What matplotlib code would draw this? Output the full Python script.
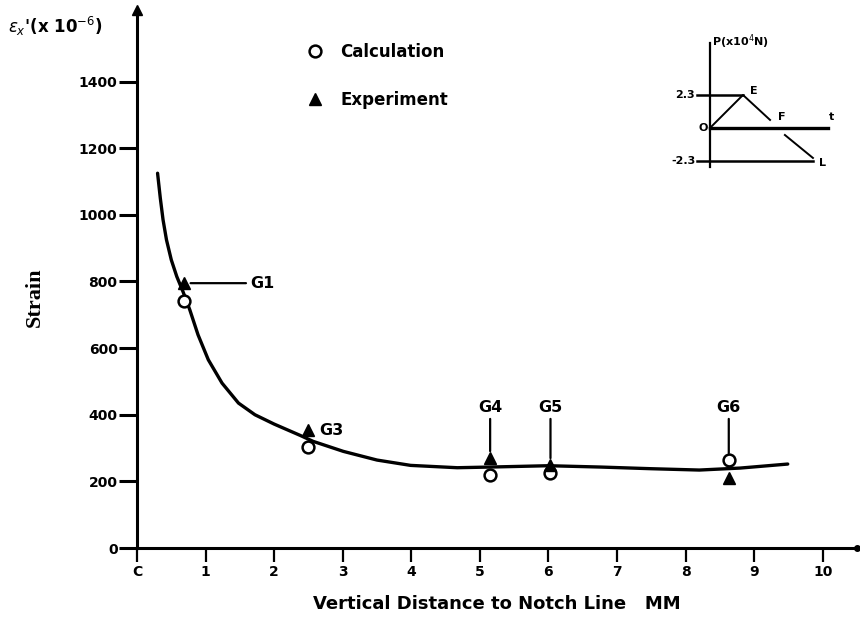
import matplotlib.pyplot as plt

# =========================
# DATA
# =========================
# fitted strain curve
curve_x = [0.30, 0.34, 0.38, 0.43, 0.50, 0.58, 0.67, 0.77, 0.89, 1.04,
           1.24, 1.48, 1.72, 2.00, 2.38, 2.57, 3.01, 3.50, 3.99, 4.67,
           5.15, 6.00, 6.76, 7.50, 8.20, 8.80, 9.49]
curve_y = [1125, 1050, 985, 925, 865, 815, 770, 715, 640, 565,
           495, 435, 400, 372, 338, 320, 290, 264, 248, 241,
           243, 247, 243, 238, 234, 240, 252]

gauges = ['G1', 'G3', 'G4', 'G5', 'G6']
gauge_x = [0.68, 2.50, 5.15, 6.03, 8.63]
calc_y = [740, 303, 219, 225, 264]
exp_y = [795, 354, 270, 249, 210]

x_ticks = list(range(0, 11))
x_tick_labels = ['C', '1', '2', '3', '4', '5', '6', '7', '8', '9', '10']
y_ticks = [0, 200, 400, 600, 800, 1000, 1200, 1400]

# inset: load history P (x10^4 N) vs t
load_t = [0.0, 1.0, 1.82]
load_p = [0.0, 2.3, 0.56]
unload_t = [2.27, 3.12]
unload_p = [-0.49, -2.09]
p_peak = 2.3

# =========================
# FIGURE
# =========================
fig = plt.figure(figsize=(8.6, 6.24), dpi=100)
ax = fig.add_axes([137 / 860, 1 - 548 / 624, 720 / 860, 538 / 624])

ax.plot(curve_x, curve_y, color='black', linewidth=2.4, solid_capstyle='round',
        solid_joinstyle='round', zorder=2)
ax.plot(gauge_x, calc_y, linestyle='none', marker='o', markersize=8.5,
        markerfacecolor='white', markeredgecolor='black', markeredgewidth=1.8,
        label='Calculation', zorder=3)
ax.plot(gauge_x, exp_y, linestyle='none', marker='^', markersize=9,
        color='black', label='Experiment', zorder=3)

# gauge labels with leader lines
lead = dict(arrowstyle='-', color='black', lw=1.6, shrinkA=1, shrinkB=5)
ax.annotate('G1', xy=(gauge_x[0], exp_y[0]), xytext=(1.65, exp_y[0]),
            va='center', ha='left', fontsize=11.5, fontweight='bold', arrowprops=lead)
ax.text(2.66, exp_y[1], 'G3', va='center', ha='left', fontsize=11.5, fontweight='bold')
for name, gx, gy in zip(gauges[2:], gauge_x[2:], [exp_y[2], exp_y[3], calc_y[4]]):
    ax.annotate(name, xy=(gx, gy), xytext=(gx, 400), ha='center', va='bottom',
                fontsize=11.5, fontweight='bold', arrowprops=lead)

ax.set_xlim(0, 10.5)
ax.set_ylim(0, 1615)
ax.set_xticks(x_ticks)
ax.set_xticklabels(x_tick_labels)
ax.set_yticks(y_ticks)

for side in ['top', 'right']:
    ax.spines[side].set_visible(False)
for side in ['left', 'bottom']:
    ax.spines[side].set_linewidth(2.2)
ax.tick_params(axis='y', direction='out', length=13, width=2.2, pad=1,
               labelsize=10)
ax.tick_params(axis='x', direction='out', length=10, width=1.6, pad=2,
               labelsize=10)
for lab in ax.get_xticklabels() + ax.get_yticklabels():
    lab.set_fontweight('bold')

# arrow head on the strain axis, dot at the end of the distance axis
ax.plot(0, 1, marker='^', color='black', markersize=7, transform=ax.transAxes,
        clip_on=False)
ax.plot(1, 0, marker='o', color='black', markersize=4, transform=ax.transAxes,
        clip_on=False)

ax.set_xlabel('Vertical Distance to Notch Line   MM', fontsize=13,
              fontweight='bold', labelpad=12)
fig.text(35 / 860, 1 - 297 / 624, 'Strain', rotation=90, ha='center', va='center',
         fontsize=16, fontweight='bold', family='Liberation Serif')
fig.text(8 / 860, 1 - 26 / 624, r"$\epsilon_x$'(x 10$^{-6}$)", ha='left',
         va='center', fontsize=12, fontweight='bold')

ax.legend(loc='upper left', bbox_to_anchor=(292 / 860, 1 - 28 / 624),
          bbox_transform=fig.transFigure, frameon=False, numpoints=1,
          handlelength=1.0, handletextpad=1.0, labelspacing=1.8,
          prop={'size': 12, 'weight': 'bold'})

# =========================
# INSET: load history
# =========================
ins = fig.add_axes([690 / 860, 1 - 170 / 624, 150 / 860, 135 / 624])
ins.set_xlim(-0.606, 3.94)
ins.set_ylim(-2.93, 6.48)
ins.axis('off')
ins.plot([0, 0], [-2.7, 5.9], color='black', lw=1.6)
ins.plot([0, 3.58], [0, 0], color='black', lw=2.4)
ins.plot([-0.4, load_t[1]], [p_peak, p_peak], color='black', lw=1.8)
ins.plot([-0.4, unload_t[1]], [-p_peak, -p_peak], color='black', lw=1.8)
ins.plot(load_t, load_p, color='black', lw=1.4)
ins.plot(unload_t, unload_p, color='black', lw=1.4)
ins.text(0.05, 6.0, 'P(x10$^4$N)', fontsize=8, fontweight='bold', va='center')
ins.text(-0.45, p_peak, '2.3', ha='right', va='center', fontsize=8, fontweight='bold')
ins.text(-0.05, 0, 'O', ha='right', va='center', fontsize=8, fontweight='bold')
ins.text(-0.45, -p_peak, '-2.3', ha='right', va='center', fontsize=8, fontweight='bold')
ins.text(1.2, 2.6, 'E', fontsize=8, fontweight='bold', va='center')
ins.text(2.05, 0.75, 'F', fontsize=8, fontweight='bold', va='center')
ins.text(3.6, 0.75, 't', fontsize=8, fontweight='bold', va='center')
ins.text(3.3, -2.45, 'L', fontsize=8, fontweight='bold', va='center')

fig.savefig('out.png', dpi=100)
